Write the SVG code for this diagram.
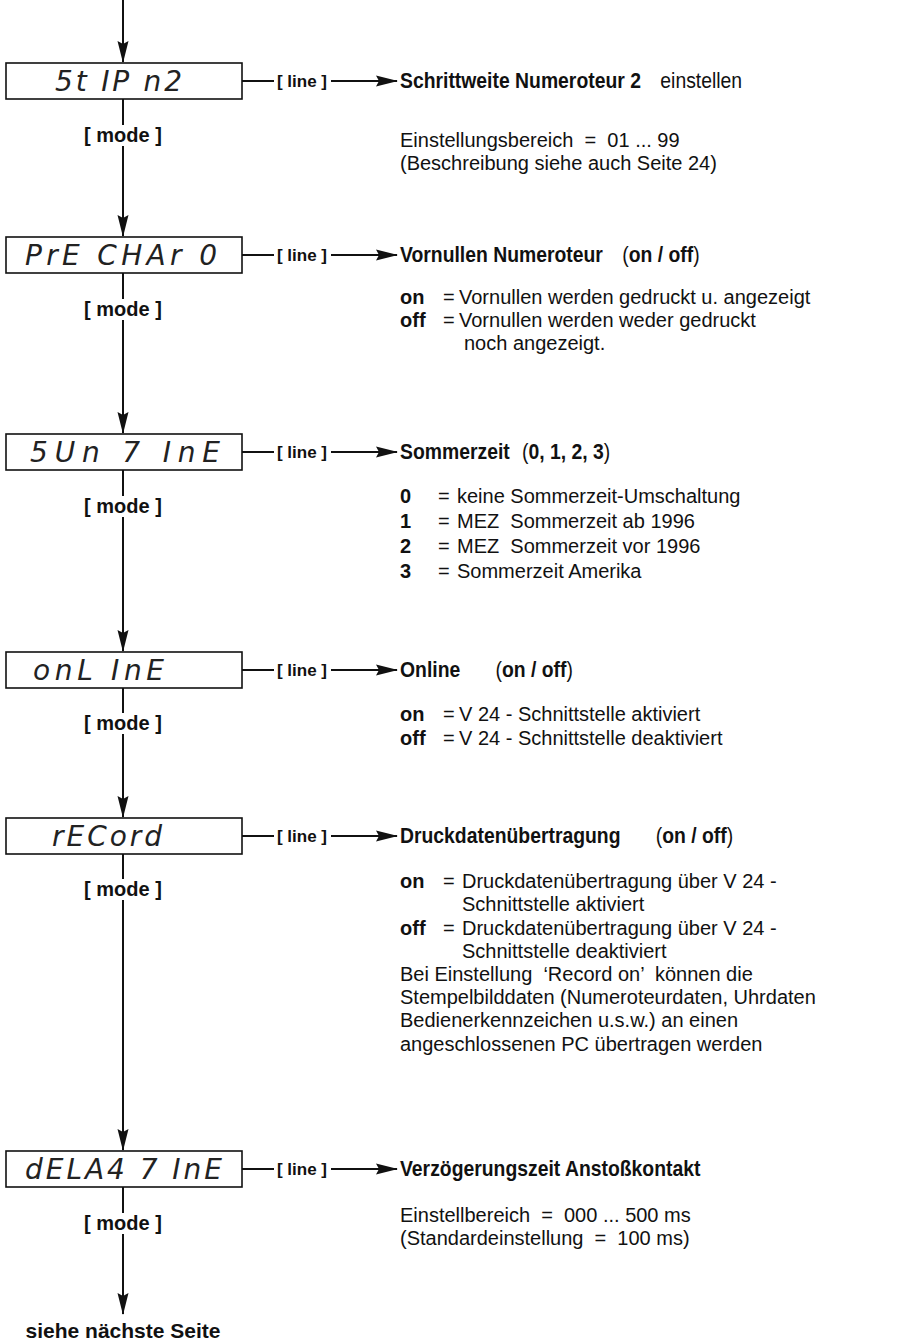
<svg xmlns="http://www.w3.org/2000/svg" width="913" height="1344" viewBox="0 0 913 1344">
<style>
.b{font-family:"Liberation Sans",Arial,sans-serif;font-weight:bold;fill:#111}
.r{font-family:"Liberation Sans",Arial,sans-serif;font-weight:normal;fill:#111}
.hd{font-size:22px}
.t{font-size:20px}
.lbl{font-size:17px}
.md{font-size:20px}
.seg{font-family:"DejaVu Sans","Liberation Sans",sans-serif;font-weight:200;font-style:italic;font-size:28px;fill:#222}
.box{fill:#fff;stroke:#111;stroke-width:1.6}
.ln{stroke:#111;stroke-width:2;fill:none}
</style>
<defs>
<marker id="ah" markerUnits="userSpaceOnUse" markerWidth="22" markerHeight="12" refX="21" refY="6" orient="auto">
<path d="M0,0.5 L22,6 L0,11.5 L3,6 z" fill="#111"/>
</marker>
</defs>
<g id="connectors">
<line class="ln" x1="123" y1="0" x2="123" y2="62" marker-end="url(#ah)"/>
<line class="ln" x1="123" y1="99" x2="123" y2="125"/>
<line class="ln" x1="123" y1="146" x2="123" y2="236" marker-end="url(#ah)"/>
<line class="ln" x1="123" y1="273" x2="123" y2="299"/>
<line class="ln" x1="123" y1="320" x2="123" y2="433" marker-end="url(#ah)"/>
<line class="ln" x1="123" y1="470" x2="123" y2="496"/>
<line class="ln" x1="123" y1="517" x2="123" y2="651" marker-end="url(#ah)"/>
<line class="ln" x1="123" y1="688" x2="123" y2="713"/>
<line class="ln" x1="123" y1="734" x2="123" y2="817" marker-end="url(#ah)"/>
<line class="ln" x1="123" y1="854" x2="123" y2="879"/>
<line class="ln" x1="123" y1="900" x2="123" y2="1150" marker-end="url(#ah)"/>
<line class="ln" x1="123" y1="1187" x2="123" y2="1213"/>
<line class="ln" x1="123" y1="1234" x2="123" y2="1314" marker-end="url(#ah)"/>
<g>
<line class="ln" x1="242" y1="81" x2="274" y2="81"/><line class="ln" x1="331" y1="81" x2="397" y2="81" marker-end="url(#ah)"/>
<line class="ln" x1="242" y1="255" x2="274" y2="255"/><line class="ln" x1="331" y1="255" x2="397" y2="255" marker-end="url(#ah)"/>
<line class="ln" x1="242" y1="452" x2="274" y2="452"/><line class="ln" x1="331" y1="452" x2="397" y2="452" marker-end="url(#ah)"/>
<line class="ln" x1="242" y1="670" x2="274" y2="670"/><line class="ln" x1="331" y1="670" x2="397" y2="670" marker-end="url(#ah)"/>
<line class="ln" x1="242" y1="836" x2="274" y2="836"/><line class="ln" x1="331" y1="836" x2="397" y2="836" marker-end="url(#ah)"/>
<line class="ln" x1="242" y1="1169" x2="274" y2="1169"/><line class="ln" x1="331" y1="1169" x2="397" y2="1169" marker-end="url(#ah)"/>
</g>
<g class="b lbl" text-anchor="middle">
<text x="302" y="87">[ line ]</text>
<text x="302" y="261">[ line ]</text>
<text x="302" y="458">[ line ]</text>
<text x="302" y="676">[ line ]</text>
<text x="302" y="842">[ line ]</text>
<text x="302" y="1175">[ line ]</text>
</g>
<g class="b md" text-anchor="middle">
<text x="123" y="142">[ mode ]</text>
<text x="123" y="316">[ mode ]</text>
<text x="123" y="513">[ mode ]</text>
<text x="123" y="730">[ mode ]</text>
<text x="123" y="896">[ mode ]</text>
<text x="123" y="1230">[ mode ]</text>
</g>
</g>
<g id="node-stip">
<rect class="box" x="6" y="63" width="236" height="36"/>
<text class="seg" x="55" y="91" textLength="127" lengthAdjust="spacing">5t IP n2</text>
</g>
<g id="node-prechar">
<rect class="box" x="6" y="237" width="236" height="36"/>
<text class="seg" x="25" y="265" textLength="192" lengthAdjust="spacing">PrE CHAr 0</text>
</g>
<g id="node-sumtime">
<rect class="box" x="6" y="434" width="236" height="36"/>
<text class="seg" x="30" y="462" textLength="190" lengthAdjust="spacing">5Un 7 InE</text>
</g>
<g id="node-online">
<rect class="box" x="6" y="652" width="236" height="36"/>
<text class="seg" x="33" y="680" textLength="131" lengthAdjust="spacing">onL InE</text>
</g>
<g id="node-record">
<rect class="box" x="6" y="818" width="236" height="36"/>
<text class="seg" x="52" y="846" textLength="110" lengthAdjust="spacing">rECord</text>
</g>
<g id="node-delay">
<rect class="box" x="6" y="1151" width="236" height="36"/>
<text class="seg" x="25" y="1179" textLength="197" lengthAdjust="spacing">dELA4 7 InE</text>
</g>
<g id="desc-stip">
<text class="b hd" transform="translate(400,88) scale(0.88,1)">Schrittweite Numeroteur 2<tspan class="r" dx="22">einstellen</tspan></text>
<text class="r t" x="400" y="147" xml:space="preserve">Einstellungsbereich  =  01 ... 99</text>
<text class="r t" x="400" y="170">(Beschreibung siehe auch Seite 24)</text>
</g>
<g id="desc-prechar">
<text class="b hd" transform="translate(400,262) scale(0.88,1)">Vornullen Numeroteur<tspan class="r" dx="22">(</tspan>on / off<tspan class="r">)</tspan></text>
<text class="b t" x="400" y="304">on</text>
<text class="r t" x="443" y="304">=</text>
<text class="r t" x="459" y="304">Vornullen werden gedruckt u. angezeigt</text>
<text class="b t" x="400" y="327">off</text>
<text class="r t" x="443" y="327">=</text>
<text class="r t" x="459" y="327">Vornullen werden weder gedruckt</text>
<text class="r t" x="464" y="350">noch angezeigt.</text>
</g>
<g id="desc-sumtime">
<text class="b hd" transform="translate(400,459) scale(0.88,1)">Sommerzeit<tspan class="r" dx="14">(</tspan>0, 1, 2, 3<tspan class="r">)</tspan></text>
<text class="b t" x="400" y="503">0</text><text class="r t" x="438" y="503">=</text>
<text class="r t" x="457" y="503">keine Sommerzeit-Umschaltung</text>
<text class="b t" x="400" y="528">1</text><text class="r t" x="438" y="528">=</text>
<text class="r t" x="457" y="528" xml:space="preserve">MEZ  Sommerzeit ab 1996</text>
<text class="b t" x="400" y="553">2</text><text class="r t" x="438" y="553">=</text>
<text class="r t" x="457" y="553" xml:space="preserve">MEZ  Sommerzeit vor 1996</text>
<text class="b t" x="400" y="578">3</text><text class="r t" x="438" y="578">=</text>
<text class="r t" x="457" y="578">Sommerzeit Amerika</text>
</g>
<g id="desc-online">
<text class="b hd" transform="translate(400,677) scale(0.88,1)">Online<tspan class="r" dx="40">(</tspan>on / off<tspan class="r">)</tspan></text>
<text class="b t" x="400" y="721">on</text><text class="r t" x="443" y="721">=</text>
<text class="r t" x="459" y="721">V 24 - Schnittstelle aktiviert</text>
<text class="b t" x="400" y="745">off</text><text class="r t" x="443" y="745">=</text>
<text class="r t" x="459" y="745">V 24 - Schnittstelle deaktiviert</text>
</g>
<g id="desc-record">
<text class="b hd" transform="translate(400,843) scale(0.88,1)">Druckdatenübertragung<tspan class="r" dx="40">(</tspan>on / off<tspan class="r">)</tspan></text>
<text class="b t" x="400" y="888">on</text><text class="r t" x="443" y="888">=</text>
<text class="r t" x="462" y="888">Druckdatenübertragung über V 24 -</text>
<text class="r t" x="462" y="911">Schnittstelle aktiviert</text>
<text class="b t" x="400" y="935">off</text><text class="r t" x="443" y="935">=</text>
<text class="r t" x="462" y="935">Druckdatenübertragung über V 24 -</text>
<text class="r t" x="462" y="958">Schnittstelle deaktiviert</text>
<text class="r t" x="400" y="981" xml:space="preserve">Bei Einstellung  ‘Record on’  können die</text>
<text class="r t" x="400" y="1004">Stempelbilddaten (Numeroteurdaten, Uhrdaten</text>
<text class="r t" x="400" y="1027">Bedienerkennzeichen u.s.w.) an einen</text>
<text class="r t" x="400" y="1051">angeschlossenen PC übertragen werden</text>
</g>
<g id="desc-delay">
<text class="b hd" transform="translate(400,1176) scale(0.88,1)">Verzögerungszeit Anstoßkontakt</text>
<text class="r t" x="400" y="1222" xml:space="preserve">Einstellbereich  =  000 ... 500 ms</text>
<text class="r t" x="400" y="1245" xml:space="preserve">(Standardeinstellung  =  100 ms)</text>
</g>
<g id="next-page">
<text class="b" font-size="21" x="123" y="1338" text-anchor="middle">siehe nächste Seite</text>
</g>
</svg>
